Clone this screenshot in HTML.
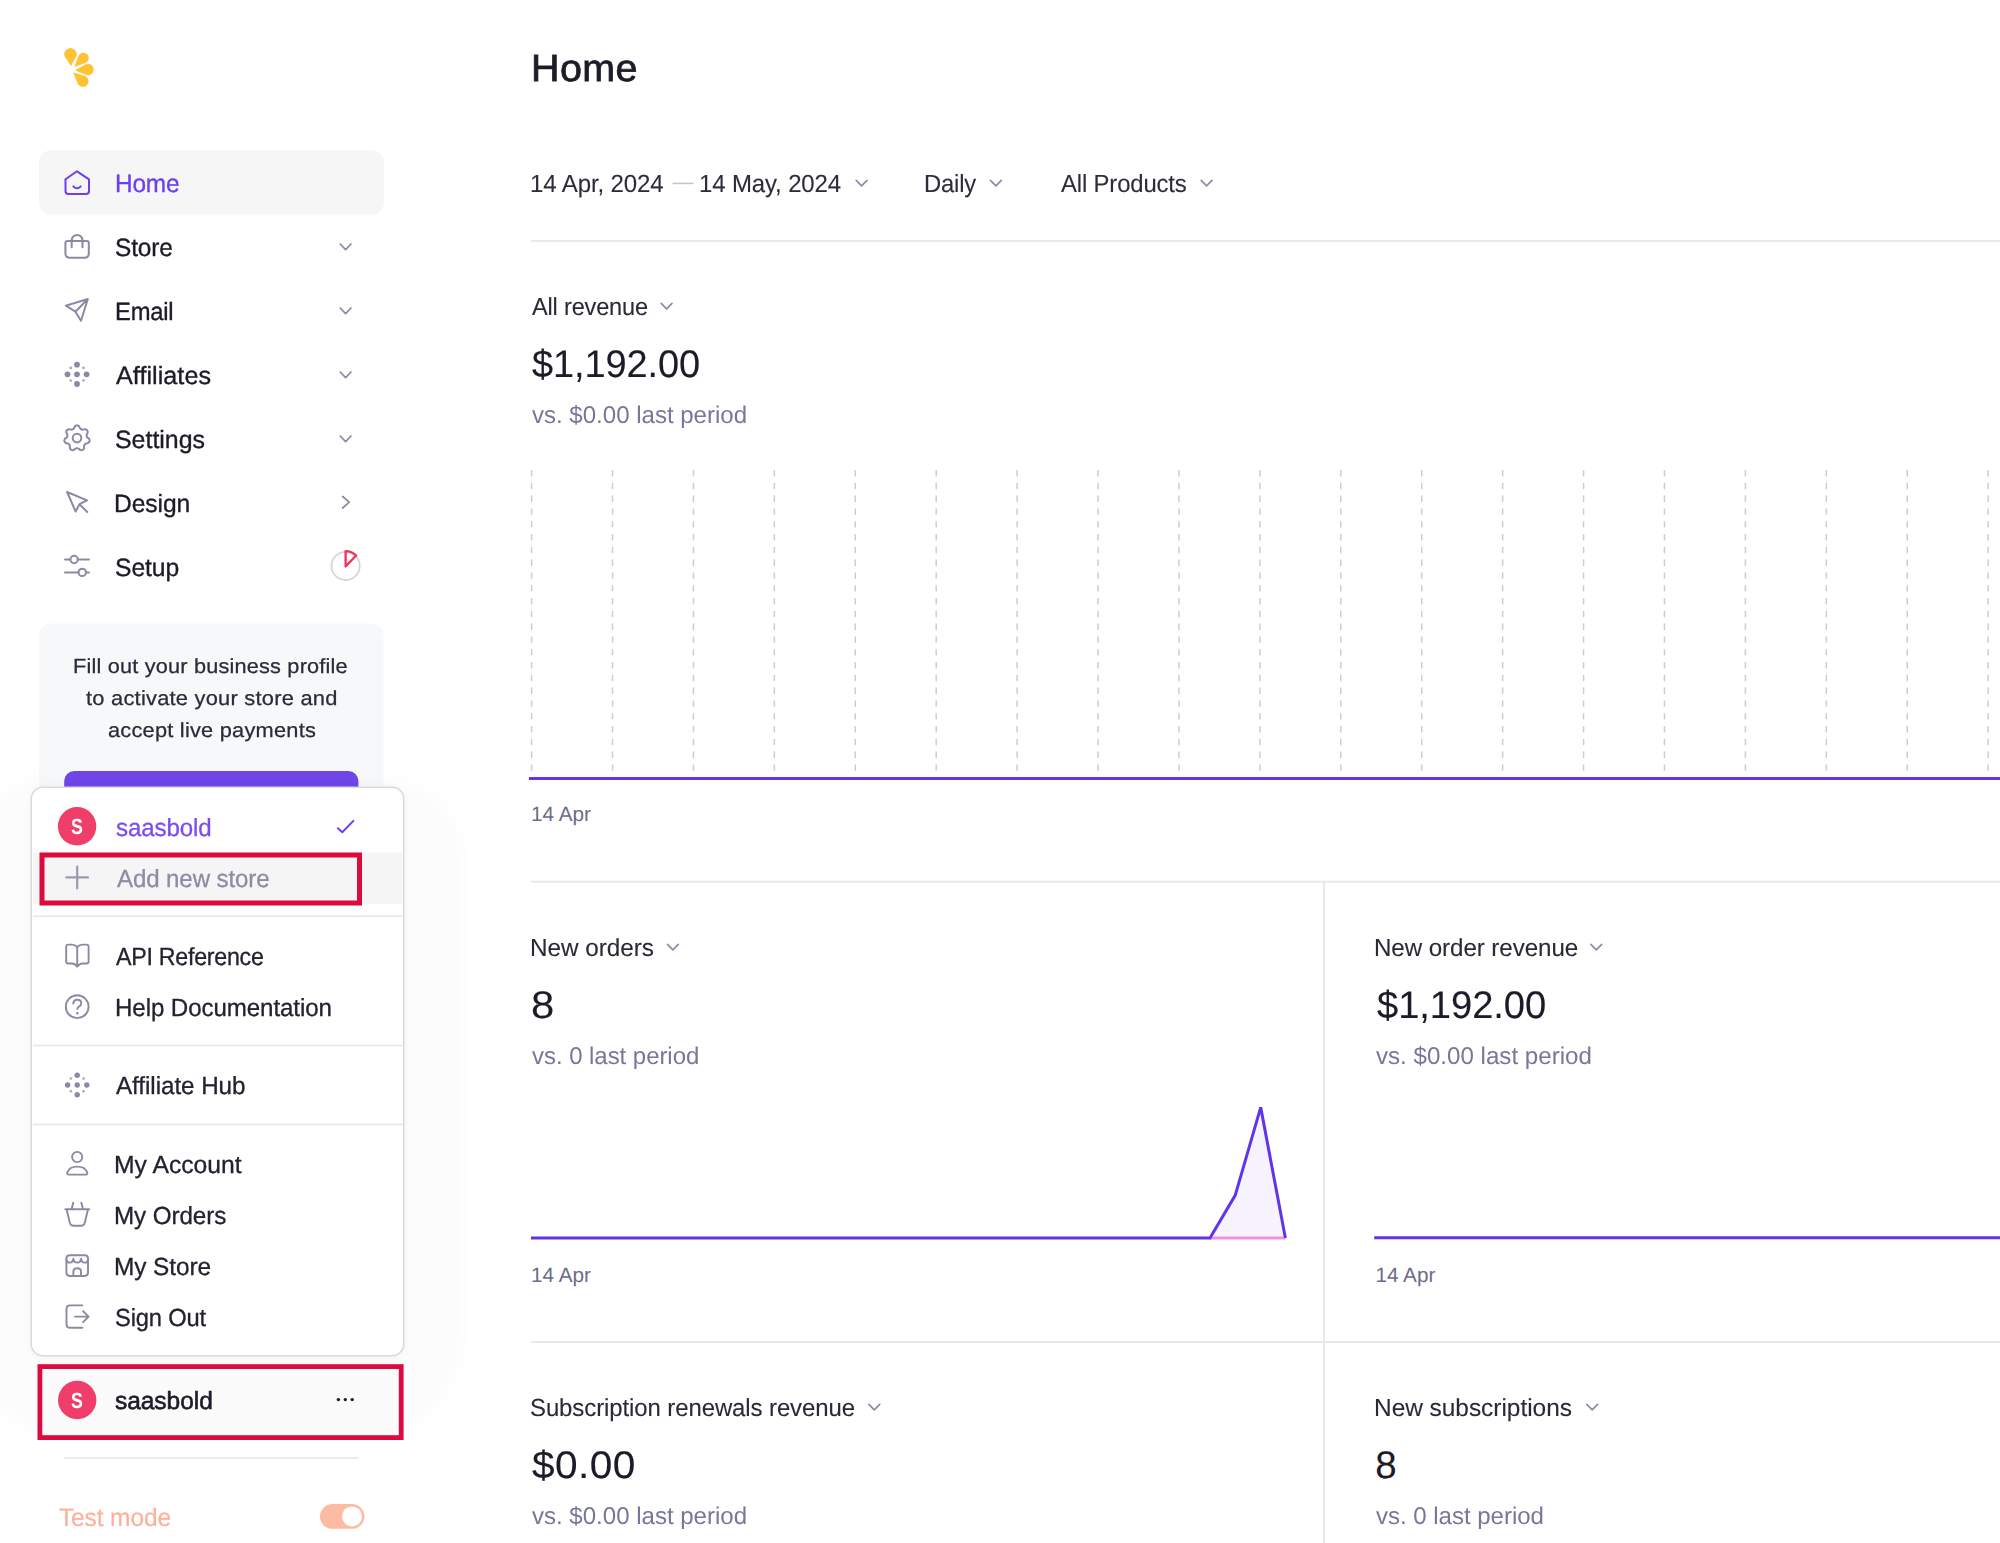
<!DOCTYPE html>
<html><head><meta charset="utf-8"><title>Home</title>
<style>
html,body{margin:0;padding:0;}
body{width:2000px;height:1543px;overflow:hidden;background:#fff;position:relative;font-family:"Liberation Sans",sans-serif;}
.t{position:absolute;white-space:nowrap;line-height:1;transform-origin:0 0;text-rendering:geometricPrecision;}
svg{position:absolute;left:0;top:0;overflow:visible;}
.halo{position:absolute;left:-30px;top:777px;width:493px;height:662px;border-radius:80px 80px 105px 105px;background:rgba(0,0,0,0.013);filter:blur(6px);}
.dd{position:absolute;left:32px;top:788px;width:371px;height:567.3px;border-radius:11px;background:#fff;box-shadow:0 0 0 1.5px #d9d9de,0 2px 10px 0 rgba(0,0,0,0.05);}
</style></head><body>
<svg width="2000" height="1543" viewBox="0 0 2000 1543"><rect x="531" y="240" width="1469" height="1.8" fill="#e7e7ec"/>
<line x1="672.5" y1="183.4" x2="693.5" y2="183.4" stroke="#c6c6d3" stroke-width="1.6"/>
<path d="M856.2,180.4 L861.6,185.8 L867.0,180.4" fill="none" stroke="#8b8ba6" stroke-width="1.7" stroke-linecap="round" stroke-linejoin="round"/>
<path d="M990.5,180.4 L995.9,185.8 L1001.3,180.4" fill="none" stroke="#8b8ba6" stroke-width="1.7" stroke-linecap="round" stroke-linejoin="round"/>
<path d="M1201.2,180.4 L1206.6,185.8 L1212.0,180.4" fill="none" stroke="#8b8ba6" stroke-width="1.7" stroke-linecap="round" stroke-linejoin="round"/>
<path d="M661.2,303.4 L666.6,308.8 L672.0,303.4" fill="none" stroke="#8b8ba6" stroke-width="1.7" stroke-linecap="round" stroke-linejoin="round"/>
<path d="M667.5,944.4 L672.9,949.8 L678.3,944.4" fill="none" stroke="#8b8ba6" stroke-width="1.7" stroke-linecap="round" stroke-linejoin="round"/>
<path d="M1590.9,944.4 L1596.3,949.8 L1601.7,944.4" fill="none" stroke="#8b8ba6" stroke-width="1.7" stroke-linecap="round" stroke-linejoin="round"/>
<path d="M868.9,1404.4 L874.3,1409.8 L879.7,1404.4" fill="none" stroke="#8b8ba6" stroke-width="1.7" stroke-linecap="round" stroke-linejoin="round"/>
<path d="M1586.8,1404.4 L1592.2,1409.8 L1597.6,1404.4" fill="none" stroke="#8b8ba6" stroke-width="1.7" stroke-linecap="round" stroke-linejoin="round"/>
<line x1="531.60" y1="470" x2="531.60" y2="771" stroke="#cdcdd5" stroke-width="1.5" stroke-dasharray="6.4 6.4"/>
<line x1="612.52" y1="470" x2="612.52" y2="771" stroke="#cdcdd5" stroke-width="1.5" stroke-dasharray="6.4 6.4"/>
<line x1="693.44" y1="470" x2="693.44" y2="771" stroke="#cdcdd5" stroke-width="1.5" stroke-dasharray="6.4 6.4"/>
<line x1="774.36" y1="470" x2="774.36" y2="771" stroke="#cdcdd5" stroke-width="1.5" stroke-dasharray="6.4 6.4"/>
<line x1="855.28" y1="470" x2="855.28" y2="771" stroke="#cdcdd5" stroke-width="1.5" stroke-dasharray="6.4 6.4"/>
<line x1="936.20" y1="470" x2="936.20" y2="771" stroke="#cdcdd5" stroke-width="1.5" stroke-dasharray="6.4 6.4"/>
<line x1="1017.12" y1="470" x2="1017.12" y2="771" stroke="#cdcdd5" stroke-width="1.5" stroke-dasharray="6.4 6.4"/>
<line x1="1098.04" y1="470" x2="1098.04" y2="771" stroke="#cdcdd5" stroke-width="1.5" stroke-dasharray="6.4 6.4"/>
<line x1="1178.96" y1="470" x2="1178.96" y2="771" stroke="#cdcdd5" stroke-width="1.5" stroke-dasharray="6.4 6.4"/>
<line x1="1259.88" y1="470" x2="1259.88" y2="771" stroke="#cdcdd5" stroke-width="1.5" stroke-dasharray="6.4 6.4"/>
<line x1="1340.80" y1="470" x2="1340.80" y2="771" stroke="#cdcdd5" stroke-width="1.5" stroke-dasharray="6.4 6.4"/>
<line x1="1421.72" y1="470" x2="1421.72" y2="771" stroke="#cdcdd5" stroke-width="1.5" stroke-dasharray="6.4 6.4"/>
<line x1="1502.64" y1="470" x2="1502.64" y2="771" stroke="#cdcdd5" stroke-width="1.5" stroke-dasharray="6.4 6.4"/>
<line x1="1583.56" y1="470" x2="1583.56" y2="771" stroke="#cdcdd5" stroke-width="1.5" stroke-dasharray="6.4 6.4"/>
<line x1="1664.48" y1="470" x2="1664.48" y2="771" stroke="#cdcdd5" stroke-width="1.5" stroke-dasharray="6.4 6.4"/>
<line x1="1745.40" y1="470" x2="1745.40" y2="771" stroke="#cdcdd5" stroke-width="1.5" stroke-dasharray="6.4 6.4"/>
<line x1="1826.32" y1="470" x2="1826.32" y2="771" stroke="#cdcdd5" stroke-width="1.5" stroke-dasharray="6.4 6.4"/>
<line x1="1907.24" y1="470" x2="1907.24" y2="771" stroke="#cdcdd5" stroke-width="1.5" stroke-dasharray="6.4 6.4"/>
<line x1="1988.16" y1="470" x2="1988.16" y2="771" stroke="#cdcdd5" stroke-width="1.5" stroke-dasharray="6.4 6.4"/>
<line x1="529" y1="778.4" x2="2000" y2="778.4" stroke="#6234e8" stroke-width="3"/>
<rect x="531" y="880.8" width="1469" height="1.8" fill="#e7e7ec"/>
<rect x="531" y="1341.1" width="1469" height="1.8" fill="#e7e7ec"/>
<rect x="1323.1" y="882" width="1.8" height="661" fill="#e7e7ec"/>
<polygon points="1210,1238 1235.2,1195.3 1260.7,1107.4 1285.4,1238" fill="#f6f3fe"/>
<line x1="1210" y1="1238" x2="1285.4" y2="1238" stroke="#f490e4" stroke-width="3"/>
<polyline points="531,1238 1210,1238 1235.2,1195.3 1260.7,1107.4 1285.4,1238" fill="none" stroke="#6234e8" stroke-width="3" stroke-linejoin="miter"/>
<line x1="1374.2" y1="1237.8" x2="2000" y2="1237.8" stroke="#6234e8" stroke-width="3"/></svg>
<svg width="2000" height="1543" viewBox="0 0 2000 1543"><path d="M71.00,65.90 L65.43,57.60 A6.1,6.1 0 1 1 75.84,57.15 Z" fill="#ffc233"/>
<path d="M74.30,67.00 L78.45,56.11 A5.3,5.3 0 1 1 85.23,62.97 Z" fill="#ffc233"/>
<path d="M75.00,70.30 L85.23,64.62 A5.7,5.7 0 1 1 85.78,74.85 Z" fill="#ffc233"/>
<path d="M73.20,72.50 L84.38,75.72 A5.7,5.7 0 1 1 77.50,83.31 Z" fill="#ffc233"/>
<rect x="39" y="150.3" width="344.8" height="64.3" rx="12" fill="#f6f6f7"/>
<path d="M77,171.3 L89,179.3 V191 Q89,194 86,194 H68.5 Q65.5,194 65.5,191 V179.3 Z" stroke="#6d3ff0" fill="none" stroke-width="2" stroke-linecap="round" stroke-linejoin="round"/>
<path d="M73.3,186.4 Q77,190.2 80.8,186.4" stroke="#6d3ff0" fill="none" stroke-width="2" stroke-linecap="round" stroke-linejoin="round"/>
<path d="M67.4,241 H86.8 Q88.8,241 88.8,243 V253.3 Q88.8,257.8 84.3,257.8 H69.9 Q65.4,257.8 65.4,253.3 V243 Q65.4,241 67.4,241 Z" stroke="#8a8aa4" fill="none" stroke-width="2" stroke-linecap="round" stroke-linejoin="round"/>
<path d="M71.7,247.2 V240.3 A5.4,5.4 0 0 1 82.5,240.3 V247.2" stroke="#8a8aa4" fill="none" stroke-width="2" stroke-linecap="round" stroke-linejoin="round"/>
<path d="M65.8,305.7 L87.8,299 L81,320.8 L75.4,311.7 Z M75.4,311.7 L87.8,299" stroke="#8a8aa4" fill="none" stroke-width="2" stroke-linecap="round" stroke-linejoin="round"/>
<circle cx="77" cy="364.7" r="2.9" fill="#8a8aa4"/>
<circle cx="67.5" cy="374.3" r="2.9" fill="#8a8aa4"/>
<circle cx="77" cy="374.3" r="2.9" fill="#8a8aa4"/>
<circle cx="86.6" cy="374.3" r="2.9" fill="#8a8aa4"/>
<circle cx="77" cy="384" r="2.9" fill="#8a8aa4"/>
<circle cx="70.8" cy="367.9" r="1.35" fill="#a9a9bd"/>
<circle cx="83.5" cy="367.9" r="1.35" fill="#a9a9bd"/>
<circle cx="70.8" cy="380.5" r="1.35" fill="#a9a9bd"/>
<circle cx="83.5" cy="380.5" r="1.35" fill="#a9a9bd"/>
<path d="M88.40,438.30 L89.05,438.84 L89.38,439.41 L89.58,440.00 L89.64,440.59 L89.58,441.17 L89.39,441.72 L89.07,442.22 L88.64,442.67 L88.09,443.04 L87.27,443.25 L86.46,443.39 L85.90,443.62 L85.43,443.87 L85.05,444.15 L84.74,444.47 L84.49,444.85 L84.31,445.28 L84.16,445.79 L84.07,446.39 L84.11,447.21 L84.09,448.06 L83.85,448.68 L83.51,449.20 L83.09,449.61 L82.60,449.92 L82.05,450.11 L81.46,450.18 L80.84,450.13 L80.21,449.92 L79.54,449.41 L78.92,448.87 L78.39,448.57 L77.91,448.37 L77.45,448.24 L77.00,448.20 L76.55,448.24 L76.09,448.37 L75.61,448.57 L75.08,448.87 L74.46,449.41 L73.79,449.92 L73.16,450.13 L72.54,450.18 L71.95,450.11 L71.40,449.92 L70.91,449.61 L70.49,449.20 L70.15,448.68 L69.91,448.06 L69.89,447.21 L69.93,446.39 L69.84,445.79 L69.69,445.28 L69.51,444.85 L69.26,444.47 L68.95,444.15 L68.57,443.87 L68.10,443.62 L67.54,443.39 L66.73,443.25 L65.91,443.04 L65.36,442.67 L64.93,442.22 L64.61,441.72 L64.42,441.17 L64.36,440.59 L64.42,440.00 L64.62,439.41 L64.95,438.84 L65.60,438.30 L66.27,437.82 L66.68,437.37 L66.98,436.94 L67.21,436.52 L67.35,436.10 L67.41,435.65 L67.39,435.18 L67.30,434.66 L67.12,434.08 L66.73,433.35 L66.38,432.59 L66.33,431.92 L66.41,431.31 L66.61,430.75 L66.91,430.26 L67.32,429.85 L67.83,429.53 L68.41,429.31 L69.07,429.22 L69.89,429.39 L70.69,429.61 L71.29,429.65 L71.82,429.62 L72.28,429.54 L72.70,429.38 L73.09,429.15 L73.45,428.84 L73.80,428.44 L74.14,427.95 L74.46,427.19 L74.85,426.43 L75.33,425.98 L75.86,425.66 L76.42,425.46 L77.00,425.40 L77.58,425.46 L78.14,425.66 L78.67,425.98 L79.15,426.43 L79.54,427.19 L79.86,427.95 L80.20,428.44 L80.55,428.84 L80.91,429.15 L81.30,429.38 L81.72,429.54 L82.18,429.62 L82.71,429.65 L83.31,429.61 L84.11,429.39 L84.93,429.22 L85.59,429.31 L86.17,429.53 L86.68,429.85 L87.09,430.26 L87.39,430.75 L87.59,431.31 L87.67,431.92 L87.62,432.59 L87.27,433.35 L86.88,434.08 L86.70,434.66 L86.61,435.18 L86.59,435.65 L86.65,436.10 L86.79,436.52 L87.02,436.94 L87.32,437.37 L87.73,437.82 Z" stroke="#8a8aa4" fill="none" stroke-width="2" stroke-linecap="round" stroke-linejoin="round"/>
<circle cx="77" cy="438.1" r="4.3" stroke="#8a8aa4" fill="none" stroke-width="2" stroke-linecap="round" stroke-linejoin="round"/>
<path d="M67.1,492 L87,500.3 L79.5,504.2 L75.6,511.5 Z M79.5,504.2 L87.3,512" stroke="#8a8aa4" fill="none" stroke-width="2" stroke-linecap="round" stroke-linejoin="round"/>
<path d="M65,559.5 H70.4 M77.8,559.5 H89 M65,572.4 H78.5 M86,572.4 H89" stroke="#8a8aa4" fill="none" stroke-width="2" stroke-linecap="round" stroke-linejoin="round"/>
<circle cx="74.1" cy="559.5" r="3.7" stroke="#8a8aa4" fill="none" stroke-width="2" stroke-linecap="round" stroke-linejoin="round"/>
<circle cx="82.2" cy="572.4" r="3.7" stroke="#8a8aa4" fill="none" stroke-width="2" stroke-linecap="round" stroke-linejoin="round"/>
<path d="M340.2,244.0 L345.6,249.7 L351.0,244.0" fill="none" stroke="#8b8ba6" stroke-width="1.7" stroke-linecap="round" stroke-linejoin="round"/>
<path d="M340.2,308.0 L345.6,313.7 L351.0,308.0" fill="none" stroke="#8b8ba6" stroke-width="1.7" stroke-linecap="round" stroke-linejoin="round"/>
<path d="M340.2,372.0 L345.6,377.7 L351.0,372.0" fill="none" stroke="#8b8ba6" stroke-width="1.7" stroke-linecap="round" stroke-linejoin="round"/>
<path d="M340.2,436.0 L345.6,441.7 L351.0,436.0" fill="none" stroke="#8b8ba6" stroke-width="1.7" stroke-linecap="round" stroke-linejoin="round"/>
<path d="M342.6,496.5 L349.3,502.2 L342.6,508" fill="none" stroke="#8b8ba6" stroke-width="1.7" stroke-linecap="round" stroke-linejoin="round"/>
<circle cx="345.6" cy="565.9" r="14.1" fill="none" stroke="#d5d5db" stroke-width="1.8"/>
<path d="M345.6,566.4 V551.1 A15.2,15.2 0 0 1 356.16,555.47 Z" fill="none" stroke="#f0325f" stroke-width="2.3" stroke-linejoin="round"/>
<rect x="39" y="623.5" width="344.6" height="200" rx="12" fill="#f7f8fa"/>
<rect x="64.2" y="771" width="294.2" height="48" rx="10" fill="#6f46e9"/></svg>
<div class="t" style="left:530.88px;top:51.00px;font-size:37.9px;color:#1c1b27;letter-spacing:0.433px;transform:scaleX(1.0409);-webkit-text-stroke:0.75px #1c1b27;">Home</div>
<div class="t" style="left:530.00px;top:173.00px;font-size:24.8px;color:#2d2c39;letter-spacing:-0.126px;transform:scaleX(0.9700);-webkit-text-stroke:0.1px #2d2c39;">14 Apr, 2024</div>
<div class="t" style="left:699.21px;top:173.00px;font-size:24.8px;color:#2d2c39;letter-spacing:-0.144px;transform:scaleX(0.9677);-webkit-text-stroke:0.1px #2d2c39;">14 May, 2024</div>
<div class="t" style="left:924.48px;top:173.00px;font-size:24.8px;color:#2d2c39;letter-spacing:-0.185px;transform:scaleX(0.9587);-webkit-text-stroke:0.1px #2d2c39;">Daily</div>
<div class="t" style="left:1061.00px;top:173.00px;font-size:24.8px;color:#2d2c39;letter-spacing:-0.151px;transform:scaleX(0.9627);-webkit-text-stroke:0.1px #2d2c39;">All Products</div>
<div class="t" style="left:531.60px;top:296.00px;font-size:24.6px;color:#2a2a37;letter-spacing:-0.179px;transform:scaleX(0.9567);-webkit-text-stroke:0.1px #2a2a37;">All revenue</div>
<div class="t" style="left:532.11px;top:346.00px;font-size:38.5px;color:#1c1b27;letter-spacing:-0.096px;transform:scaleX(0.9865);-webkit-text-stroke:0.1px #1c1b27;">$1,192.00</div>
<div class="t" style="left:531.60px;top:404.00px;font-size:24.2px;color:#77779a;letter-spacing:-0.018px;transform:scaleX(0.9951);">vs. $0.00 last period</div>
<div class="t" style="left:529.62px;top:937.00px;font-size:24.6px;color:#2a2a37;letter-spacing:-0.052px;transform:scaleX(0.9887);-webkit-text-stroke:0.1px #2a2a37;">New orders</div>
<div class="t" style="left:530.69px;top:987.00px;font-size:38.5px;color:#1c1b27;transform:scaleX(1.0889);-webkit-text-stroke:0.1px #1c1b27;">8</div>
<div class="t" style="left:531.60px;top:1045.00px;font-size:24.2px;color:#77779a;letter-spacing:-0.033px;transform:scaleX(0.9906);">vs. 0 last period</div>
<div class="t" style="left:1374.14px;top:937.00px;font-size:24.6px;color:#2a2a37;letter-spacing:-0.077px;transform:scaleX(0.9821);-webkit-text-stroke:0.1px #2a2a37;">New order revenue</div>
<div class="t" style="left:1376.60px;top:987.00px;font-size:38.5px;color:#1c1b27;letter-spacing:-0.064px;transform:scaleX(0.9909);-webkit-text-stroke:0.1px #1c1b27;">$1,192.00</div>
<div class="t" style="left:1376.10px;top:1045.00px;font-size:24.2px;color:#77779a;letter-spacing:-0.008px;transform:scaleX(0.9979);">vs. $0.00 last period</div>
<div class="t" style="left:530.38px;top:1397.00px;font-size:24.6px;color:#2a2a37;letter-spacing:-0.101px;transform:scaleX(0.9747);-webkit-text-stroke:0.1px #2a2a37;">Subscription renewals revenue</div>
<div class="t" style="left:532.07px;top:1447.00px;font-size:38.5px;color:#1c1b27;letter-spacing:0.420px;transform:scaleX(1.0543);-webkit-text-stroke:0.1px #1c1b27;">$0.00</div>
<div class="t" style="left:531.60px;top:1505.00px;font-size:24.2px;color:#77779a;letter-spacing:-0.018px;transform:scaleX(0.9951);">vs. $0.00 last period</div>
<div class="t" style="left:1374.11px;top:1397.00px;font-size:24.6px;color:#2a2a37;letter-spacing:-0.025px;transform:scaleX(0.9939);-webkit-text-stroke:0.1px #2a2a37;">New subscriptions</div>
<div class="t" style="left:1375.35px;top:1447.00px;font-size:38.5px;color:#1c1b27;-webkit-text-stroke:0.1px #1c1b27;">8</div>
<div class="t" style="left:1376.10px;top:1505.00px;font-size:24.2px;color:#77779a;letter-spacing:-0.022px;transform:scaleX(0.9937);">vs. 0 last period</div>
<div class="t" style="left:531.10px;top:805.00px;font-size:20.7px;color:#6c6c88;">14 Apr</div>
<div class="t" style="left:531.10px;top:1266.00px;font-size:20.7px;color:#6c6c88;">14 Apr</div>
<div class="t" style="left:1375.50px;top:1266.00px;font-size:20.7px;color:#6c6c88;">14 Apr</div>
<div class="t" style="left:114.55px;top:172.00px;font-size:25.0px;color:#6d3ff0;letter-spacing:-0.169px;transform:scaleX(0.9763);-webkit-text-stroke:0.35px #6d3ff0;">Home</div>
<div class="t" style="left:115.28px;top:236.00px;font-size:25.0px;color:#1c1b27;letter-spacing:-0.111px;transform:scaleX(0.9770);-webkit-text-stroke:0.35px #1c1b27;">Store</div>
<div class="t" style="left:114.50px;top:300.00px;font-size:25.0px;color:#1c1b27;letter-spacing:-0.243px;transform:scaleX(0.9513);-webkit-text-stroke:0.35px #1c1b27;">Email</div>
<div class="t" style="left:115.60px;top:364.00px;font-size:25.0px;color:#1c1b27;letter-spacing:0.028px;transform:scaleX(1.0081);-webkit-text-stroke:0.35px #1c1b27;">Affiliates</div>
<div class="t" style="left:114.85px;top:428.00px;font-size:25.0px;color:#1c1b27;letter-spacing:-0.011px;transform:scaleX(0.9974);-webkit-text-stroke:0.35px #1c1b27;">Settings</div>
<div class="t" style="left:114.23px;top:492.00px;font-size:25.0px;color:#1c1b27;letter-spacing:-0.078px;transform:scaleX(0.9843);-webkit-text-stroke:0.35px #1c1b27;">Design</div>
<div class="t" style="left:114.87px;top:556.00px;font-size:25.0px;color:#1c1b27;letter-spacing:-0.069px;transform:scaleX(0.9869);-webkit-text-stroke:0.35px #1c1b27;">Setup</div>
<div class="t" style="left:73.44px;top:657.00px;font-size:20.4px;color:#2b2a38;letter-spacing:0.182px;transform:scaleX(1.0645);-webkit-text-stroke:0.25px #2b2a38;">Fill out your business profile</div>
<div class="t" style="left:86.13px;top:689.00px;font-size:20.4px;color:#2b2a38;letter-spacing:0.215px;transform:scaleX(1.0727);-webkit-text-stroke:0.25px #2b2a38;">to activate your store and</div>
<div class="t" style="left:107.80px;top:721.00px;font-size:20.4px;color:#2b2a38;letter-spacing:0.220px;transform:scaleX(1.0679);-webkit-text-stroke:0.25px #2b2a38;">accept live payments</div>
<div class="halo"></div>
<div class="dd"></div>
<svg width="2000" height="1543" viewBox="0 0 2000 1543"><rect x="33" y="852.5" width="369.6" height="51.5" fill="#f5f5f6"/>
<rect x="33" y="915.5" width="369.6" height="1.6" fill="#e5e5ea"/>
<rect x="33" y="1044.7" width="369.6" height="1.6" fill="#e5e5ea"/>
<rect x="33" y="1123.7" width="369.6" height="1.6" fill="#e5e5ea"/>
<circle cx="77.1" cy="826.3" r="19.2" fill="#f03e6b"/>
<path d="M337.8,828.3 L342.3,832.2 L353.4,820.9" fill="none" stroke="#6d3ff0" stroke-width="2" stroke-linecap="round" stroke-linejoin="round"/>
<path d="M77.2,866.5 V888.5 M66.3,877.4 H88" stroke="#9b9bb0" stroke-width="2.2" fill="none" stroke-linecap="round"/>
<path d="M77.2,947 Q75,944.6 72,944.6 H68.2 Q66.2,944.6 66.2,946.6 V961.5 Q66.2,963.5 68.2,963.5 H72 Q75,963.5 77.2,966.6 Q79.4,963.5 82.4,963.5 H86.6 Q88.6,963.5 88.6,961.5 V946.6 Q88.6,944.6 86.6,944.6 H82.4 Q79.4,944.6 77.2,947 Z M77.2,947 V966" stroke="#8a8aa4" fill="none" stroke-width="1.9" stroke-linecap="round" stroke-linejoin="round"/>
<circle cx="77.2" cy="1006.7" r="11.4" stroke="#8a8aa4" fill="none" stroke-width="1.9" stroke-linecap="round" stroke-linejoin="round"/>
<path d="M73.2,1003.6 Q73.6,999.8 77.3,999.8 Q81.2,999.8 81.2,1003.3 Q81.2,1005.4 78.9,1006.6 Q77.3,1007.5 77.3,1009" stroke="#8a8aa4" fill="none" stroke-width="1.9" stroke-linecap="round" stroke-linejoin="round"/>
<circle cx="77.3" cy="1013.2" r="1.2" fill="#8a8aa4"/>
<circle cx="77.2" cy="1075.2" r="2.7" fill="#8a8aa4"/>
<circle cx="67.6" cy="1085" r="2.7" fill="#8a8aa4"/>
<circle cx="77.2" cy="1085" r="2.7" fill="#8a8aa4"/>
<circle cx="86.8" cy="1085" r="2.7" fill="#8a8aa4"/>
<circle cx="77.2" cy="1094.8" r="2.7" fill="#8a8aa4"/>
<circle cx="70.9" cy="1078.5" r="1.3" fill="#a9a9bd"/>
<circle cx="83.5" cy="1078.5" r="1.3" fill="#a9a9bd"/>
<circle cx="70.9" cy="1091.3" r="1.3" fill="#a9a9bd"/>
<circle cx="83.5" cy="1091.3" r="1.3" fill="#a9a9bd"/>
<circle cx="77.2" cy="1157" r="5.1" stroke="#8a8aa4" fill="none" stroke-width="1.9" stroke-linecap="round" stroke-linejoin="round"/>
<path d="M69.2,1174.6 H85.4 Q87.8,1174.6 87.2,1172.4 Q85.2,1166.6 77.2,1166.6 Q69.4,1166.6 67.3,1172.4 Q66.8,1174.6 69.2,1174.6 Z" stroke="#8a8aa4" fill="none" stroke-width="1.9" stroke-linecap="round" stroke-linejoin="round"/>
<path d="M65.3,1209.2 H89.3 M66.6,1209.2 L69.8,1222.8 Q70.6,1225.8 73.4,1225.8 H81.2 Q84,1225.8 84.8,1222.8 L88,1209.2 M71.6,1209 L73.3,1202.6 M83,1209 L81.3,1202.6" stroke="#8a8aa4" fill="none" stroke-width="1.9" stroke-linecap="round" stroke-linejoin="round"/>
<path d="M70,1255.2 H84.6 Q88,1255.2 88,1258.6 V1272.6 Q88,1276 84.6,1276 H69.8 Q66.4,1276 66.4,1272.6 V1258.6 Q66.4,1255.2 70,1255.2 Z" stroke="#8a8aa4" fill="none" stroke-width="1.9" stroke-linecap="round" stroke-linejoin="round"/>
<path d="M66.4,1259.8 Q66.8,1262.6 69.8,1262.6 Q72.8,1262.6 73.3,1258.8 Q73.8,1262.6 77.2,1262.6 Q80.6,1262.6 81.1,1258.8 Q81.6,1262.6 84.6,1262.6 Q87.6,1262.6 88,1259.8" stroke="#8a8aa4" fill="none" stroke-width="1.9" stroke-linecap="round" stroke-linejoin="round"/>
<path d="M73.4,1276 V1271.4 Q73.4,1268.2 77.2,1268.2 Q81,1268.2 81,1271.4 V1276" stroke="#8a8aa4" fill="none" stroke-width="1.9" stroke-linecap="round" stroke-linejoin="round"/>
<path d="M82.4,1305.4 H70 Q66.5,1305.4 66.5,1308.9 V1324.2 Q66.5,1327.7 70,1327.7 H82.4 M75,1316.6 H88.6 M83.1,1311.1 L88.6,1316.6 L83.1,1322.1" stroke="#8a8aa4" fill="none" stroke-width="1.9" stroke-linecap="round" stroke-linejoin="round"/></svg>
<div class="t" style="left:115.97px;top:817.00px;font-size:24.7px;color:#7b4cf2;letter-spacing:-0.114px;transform:scaleX(0.9755);-webkit-text-stroke:0.3px #7b4cf2;">saasbold</div>
<div class="t" style="left:116.70px;top:868.00px;font-size:24.7px;color:#8c8ca4;letter-spacing:-0.110px;transform:scaleX(0.9751);-webkit-text-stroke:0.3px #8c8ca4;">Add new store</div>
<div class="t" style="left:116.40px;top:946.00px;font-size:24.7px;color:#23222f;letter-spacing:-0.272px;transform:scaleX(0.9400);-webkit-text-stroke:0.3px #23222f;">API Reference</div>
<div class="t" style="left:114.75px;top:997.00px;font-size:24.7px;color:#23222f;letter-spacing:-0.099px;transform:scaleX(0.9773);-webkit-text-stroke:0.3px #23222f;">Help Documentation</div>
<div class="t" style="left:116.40px;top:1075.00px;font-size:24.7px;color:#23222f;letter-spacing:-0.066px;transform:scaleX(0.9820);-webkit-text-stroke:0.3px #23222f;">Affiliate Hub</div>
<div class="t" style="left:113.80px;top:1154.00px;font-size:24.7px;color:#23222f;letter-spacing:0.003px;transform:scaleX(1.0006);-webkit-text-stroke:0.3px #23222f;">My Account</div>
<div class="t" style="left:113.84px;top:1205.00px;font-size:24.7px;color:#23222f;letter-spacing:-0.092px;transform:scaleX(0.9806);-webkit-text-stroke:0.3px #23222f;">My Orders</div>
<div class="t" style="left:113.82px;top:1256.00px;font-size:24.7px;color:#23222f;letter-spacing:-0.056px;transform:scaleX(0.9878);-webkit-text-stroke:0.3px #23222f;">My Store</div>
<div class="t" style="left:114.60px;top:1307.00px;font-size:24.7px;color:#23222f;letter-spacing:-0.180px;transform:scaleX(0.9606);-webkit-text-stroke:0.3px #23222f;">Sign Out</div>
<svg width="2000" height="1543" viewBox="0 0 2000 1543"><rect x="42" y="1368.8" width="357" height="66.8" fill="#fbfbfb"/>
<circle cx="77.2" cy="1400" r="19.2" fill="#f03e6b"/>
<circle cx="338.4" cy="1399.6" r="1.7" fill="#1c1b27"/>
<circle cx="345.3" cy="1399.6" r="1.7" fill="#1c1b27"/>
<circle cx="352.2" cy="1399.6" r="1.7" fill="#1c1b27"/>
<rect x="64.2" y="1457.2" width="294.5" height="1.6" fill="#e6e6ea"/>
<rect x="320" y="1504" width="44.4" height="24.8" rx="12.4" fill="#fdbba3"/>
<circle cx="352" cy="1516.4" r="10" fill="#fff"/>
<rect x="42" y="855" width="317.5" height="48" fill="none" stroke="#dc0a3f" stroke-width="5"/>
<rect x="39.9" y="1366.6" width="361.3" height="71" fill="none" stroke="#dc0a3f" stroke-width="4.8"/></svg>
<div class="t" style="left:71.29px;top:816.00px;font-size:22px;color:#fff;transform:scaleX(0.8077);font-weight:700;">S</div>
<div class="t" style="left:71.39px;top:1390.00px;font-size:22px;color:#fff;transform:scaleX(0.8077);font-weight:700;">S</div>
<div class="t" style="left:115.06px;top:1390.00px;font-size:24.7px;color:#1c1b27;letter-spacing:-0.038px;transform:scaleX(0.9918);-webkit-text-stroke:0.6px #1c1b27;">saasbold</div>
<div class="t" style="left:58.51px;top:1506.00px;font-size:25.2px;color:#fdb09a;letter-spacing:-0.131px;transform:scaleX(0.9728);-webkit-text-stroke:0.2px #fdb09a;">Test mode</div>
</body></html>
